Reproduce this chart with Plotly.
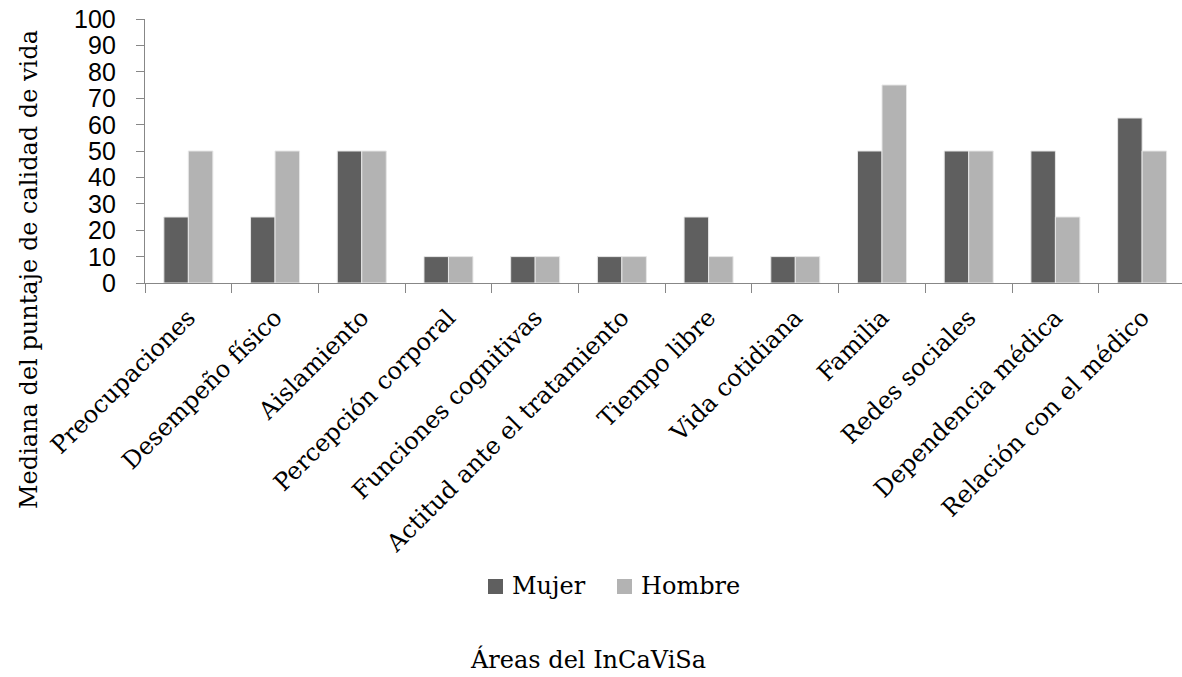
import plotly.graph_objects as go

categorias = [
    "Preocupaciones", "Desempeño físico", "Aislamiento", "Percepción corporal",
    "Funciones cognitivas", "Actitud ante el tratamiento", "Tiempo libre",
    "Vida cotidiana", "Familia", "Redes sociales", "Dependencia médica",
    "Relación con el médico",
]
mujer = [25, 25, 50, 10, 10, 10, 25, 10, 50, 50, 50, 62.5]
hombre = [50, 50, 50, 10, 10, 10, 10, 10, 75, 50, 25, 50]
y_ticks = list(range(0, 101, 10))

series = [("Mujer", mujer, "#5f5f5f"), ("Hombre", hombre, "#b3b3b3")]

SERIF = "DejaVu Serif"
SANS = "Liberation Sans"
AXIS_GRAY = "#878787"

W, H = 1182, 677
ml, mr, mt, mb = 145, 0, 19, 394
pw = W - ml - mr
ph = H - mt - mb


def px_x(px):
    return (px - ml) / pw


def px_y(px):
    return (H - mb - px) / ph


fig = go.Figure()
for name, vals, color in series:
    fig.add_trace(go.Bar(name=name, x=categorias, y=vals, showlegend=False,
                         marker=dict(color=color, line=dict(color="#e6e6e6", width=1))))

# legend: square swatch + label for each series, placed below the axis labels
legend_shapes = []
legend_notes = []
swatch_left = [488, 617]
for (name, _, color), x0 in zip(series, swatch_left):
    legend_shapes.append(dict(
        type="rect", xref="paper", yref="paper",
        x0=px_x(x0), x1=px_x(x0 + 15), y0=px_y(594), y1=px_y(579),
        fillcolor=color, line=dict(width=0),
    ))
    legend_notes.append(dict(
        text=name, xref="paper", yref="paper", x=px_x(x0 + 22), y=px_y(586),
        xanchor="left", yanchor="middle", showarrow=False,
        font=dict(family=SERIF, size=24),
    ))

# y tick labels, set a little further from the tick marks
y_labels = [
    dict(text=str(v), xref="paper", yref="y", x=px_x(118), y=v,
         xanchor="right", yanchor="middle", showarrow=False,
         font=dict(family=SANS, size=25))
    for v in y_ticks
]

fig.update_layout(
    width=W, height=H,
    margin=dict(l=ml, r=mr, t=mt, b=mb),
    paper_bgcolor="white", plot_bgcolor="white",
    barmode="group", bargap=0.435, bargroupgap=0,
    font=dict(family=SERIF, color="black", size=24),
    xaxis=dict(
        type="category", range=[-0.5, 11.46],
        tickangle=-45, tickfont=dict(family=SERIF, size=24),
        ticklabelstandoff=10,
        showline=True, linecolor=AXIS_GRAY, linewidth=1,
        ticks="outside", tickson="boundaries", ticklen=9,
        tickcolor=AXIS_GRAY, showgrid=False, zeroline=False,
    ),
    yaxis=dict(
        range=[0, 100], tickvals=y_ticks, showticklabels=False,
        showline=True, linecolor=AXIS_GRAY, linewidth=1,
        ticks="outside", ticklen=8, tickcolor=AXIS_GRAY,
        showgrid=False, zeroline=False,
    ),
    showlegend=False,
    shapes=legend_shapes,
    annotations=y_labels + legend_notes + [
        dict(text="Mediana del puntaje de calidad de vida", textangle=-90,
             xref="paper", yref="paper", x=px_x(29), y=px_y(270),
             xanchor="center", yanchor="middle", showarrow=False,
             font=dict(family=SERIF, size=24)),
        dict(text="Áreas del InCaViSa",
             xref="paper", yref="paper", x=px_x(588), y=px_y(660),
             xanchor="center", yanchor="middle", showarrow=False,
             font=dict(family=SERIF, size=24)),
    ],
)

fig.write_html("out.html")
